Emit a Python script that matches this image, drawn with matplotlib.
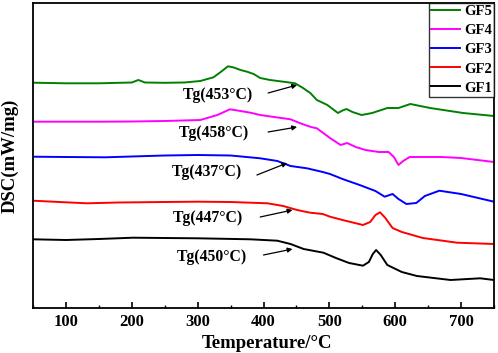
import matplotlib
matplotlib.use("Agg")
import matplotlib.pyplot as plt
from matplotlib.ticker import MultipleLocator

plt.rcParams['font.family'] = ['Liberation Serif', 'DejaVu Serif']
plt.rcParams['font.weight'] = 'bold'

# Data (temperature in °C, DSC signal in arbitrary offset units)
t_gf5 = [50, 100, 150, 200, 210, 220, 250, 280, 304, 324, 335, 346, 355, 365, 375, 385, 395, 410, 430, 448, 460, 471, 481, 497, 513, 520, 526, 535, 549, 565, 588, 605, 623, 653, 703, 750]
v_gf5 = [225.3, 224.7, 224.7, 225.5, 228, 225.5, 225.2, 225.5, 227, 230.7, 236, 241.7, 240.5, 238, 236.3, 234, 230, 228, 226.3, 224.7, 220, 215, 208, 203, 195, 197.5, 199, 196, 193, 195, 200, 200, 204, 200, 195, 192]

t_gf4 = [50, 100, 150, 200, 250, 304, 330, 349, 365, 380, 395, 416, 441, 456, 472, 481, 501, 517, 527, 540, 555, 575, 590, 598, 605, 612, 622, 670, 700, 750]
v_gf4 = [186.3, 186.3, 186.3, 186.5, 187, 188, 193, 198.7, 197, 195.3, 193, 191, 188.7, 184.7, 181, 179.7, 170, 163, 165, 161, 158, 156, 156, 151, 143, 147, 151, 151, 150, 146]

t_gf3 = [50, 100, 160, 250, 300, 350, 395, 421, 441, 466, 490, 501, 520, 546, 570, 584, 596, 605, 617, 632, 645, 667, 700, 750]
v_gf3 = [151.3, 151, 150.7, 152.5, 153, 152.5, 149.7, 147, 142, 139.7, 136, 134, 129, 123, 117, 111.3, 114, 109, 104, 105, 112, 117.3, 114, 106.3]

t_gf2 = [50, 90, 132, 180, 250, 300, 350, 406, 430, 451, 471, 490, 501, 520, 551, 562, 570, 577, 585, 596, 610, 642, 694, 750]
v_gf2 = [107.3, 106, 104.7, 105.5, 106, 106.3, 106, 104.7, 102, 98, 95.3, 94, 91.3, 88, 83, 86, 93, 95.7, 90, 80, 76, 70, 65.3, 64]

t_gf1 = [50, 100, 150, 202, 250, 300, 380, 421, 441, 461, 491, 510, 530, 551, 560, 566, 571, 578, 588, 610, 633, 684, 729, 750]
v_gf1 = [68.7, 68, 69, 70.3, 70, 69.7, 68.7, 67.3, 64, 59, 55.3, 50, 45, 42.3, 46, 54, 58, 53, 43, 36, 32, 28, 29.7, 28]

series = [
    ("GF5", t_gf5, v_gf5, "#008000"),
    ("GF4", t_gf4, v_gf4, "#ff00ff"),
    ("GF3", t_gf3, v_gf3, "#0000ff"),
    ("GF2", t_gf2, v_gf2, "#ff0000"),
    ("GF1", t_gf1, v_gf1, "#000000"),
]

tg_labels = ["Tg(453°C)", "Tg(458°C)", "Tg(437°C)", "Tg(447°C)", "Tg(450°C)"]
tg_text_x = [330, 325, 314, 316, 322]
tg_text_y = [213, 175, 136, 90, 51]
arrow_tail = [(407, 215), (407, 176), (390, 133), (395, 91), (400, 53)]
arrow_head = [(451, 223), (451, 181), (436, 145), (444, 98), (444, 59)]

fig = plt.figure(figsize=(4.98, 3.53), dpi=100)
ax = fig.add_axes([33/498, 1-308/353, 461/498, 305/353])

for name, t, v, c in series:
    ax.plot(t, v, color=c, lw=1.4, label=name)

for lab, tx, ty, tail, head in zip(tg_labels, tg_text_x, tg_text_y, arrow_tail, arrow_head):
    ax.text(tx, ty, lab, ha='center', va='center', fontsize=11.3, fontweight='bold')
    ax.annotate('', xy=head, xytext=tail,
                arrowprops=dict(arrowstyle='-|>', color='black', lw=0.9,
                                mutation_scale=7, shrinkA=0, shrinkB=0))

ax.set_xlim(50, 750)
ax.set_ylim(0, 305)
ax.xaxis.set_major_locator(MultipleLocator(100))
ax.xaxis.set_minor_locator(MultipleLocator(50))
ax.tick_params(axis='x', which='major', direction='in', length=4, width=1.2, labelsize=12, pad=4)
ax.tick_params(axis='x', which='minor', direction='in', length=2.5, width=1.0)
ax.set_yticks([])
for lab in ax.get_xticklabels():
    lab.set_fontweight('bold')
for s in ax.spines.values():
    s.set_linewidth(1.3)

ax.set_xlabel("Temperature/°C", fontsize=13.5, fontweight='bold', va='center')
ax.xaxis.set_label_coords(0.5 + 4/461, -35/305)
ax.set_ylabel("DSC(mW/mg)", fontsize=13.5, fontweight='bold', va='center')
ax.yaxis.set_label_coords(-23/461, 0.5)

leg = ax.legend(loc='upper right', fontsize=10.5, frameon=True, fancybox=False,
                edgecolor='black', borderaxespad=0, handlelength=2.0,
                handletextpad=0.25, labelspacing=0.4, borderpad=0.15)
leg.get_frame().set_linewidth(1.0)
for txt in leg.get_texts():
    txt.set_fontweight('bold')

fig.savefig("out.png", dpi=100)
